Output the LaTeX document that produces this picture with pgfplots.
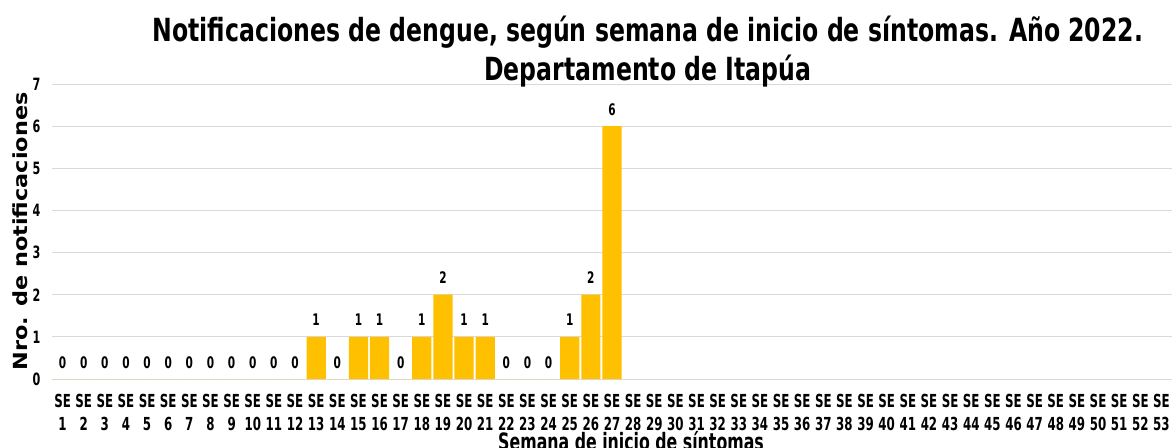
\documentclass[border=0pt]{standalone}
\usepackage{fontspec}
\setmainfont{DejaVu Sans}
\newfontfamily\cond[FakeStretch=0.66]{DejaVu Sans}
\newfontfamily\condt[FakeStretch=0.74]{DejaVu Sans}
\newfontfamily\wide[FakeStretch=1.15]{DejaVu Sans}
\usepackage{pgfplots}
\pgfplotsset{compat=1.18}
\definecolor{barc}{HTML}{FFC000}
\definecolor{gridc}{HTML}{D9D9D9}
\begin{document}
\begin{tikzpicture}
\begin{axis}[
  name=ax, at={(0,0)}, anchor=south west,
  scale only axis, width=1120bp, height=295bp,
  xmin=0.5, xmax=53.5, ymin=0, ymax=7,
  clip=false,
  ybar, bar width=19.2bp,
  xtick={1,...,53},
  xticklabels={{SE\\1},{SE\\2},{SE\\3},{SE\\4},{SE\\5},{SE\\6},{SE\\7},{SE\\8},{SE\\9},{SE\\10},{SE\\11},{SE\\12},{SE\\13},{SE\\14},{SE\\15},{SE\\16},{SE\\17},{SE\\18},{SE\\19},{SE\\20},{SE\\21},{SE\\22},{SE\\23},{SE\\24},{SE\\25},{SE\\26},{SE\\27},{SE\\28},{SE\\29},{SE\\30},{SE\\31},{SE\\32},{SE\\33},{SE\\34},{SE\\35},{SE\\36},{SE\\37},{SE\\38},{SE\\39},{SE\\40},{SE\\41},{SE\\42},{SE\\43},{SE\\44},{SE\\45},{SE\\46},{SE\\47},{SE\\48},{SE\\49},{SE\\50},{SE\\51},{SE\\52},{SE\\53}},
  ytick={0,...,7},
  ymajorgrids, grid style={draw=gridc, line width=0.9bp},
  axis line style={draw=none}, major tick length=0,
  /pgf/number format/assume math mode=true,
  yticklabel style={font=\cond\bfseries\fontsize{17}{20}\selectfont, xshift=-8bp},
  xticklabel style={font=\cond\bfseries\fontsize{18}{23}\selectfont, align=center, anchor=north, yshift=-12bp},
  xlabel={Semana de inicio de síntomas},
  xlabel style={font=\cond\bfseries\fontsize{24}{26}\selectfont, at={(axis description cs:0.517,0)}, anchor=base, yshift=-71bp},
  ylabel={Nro. de notificaciones},
  ylabel style={font=\wide\bfseries\fontsize{19.5}{20}\selectfont, at={(axis description cs:-0.0223,0.5)}, anchor=base},
  nodes near coords,
  every node near coord/.append style={font=\cond\bfseries\fontsize{16}{18}\selectfont, anchor=base, yshift=11bp, text=black},
]
\addplot[fill=barc, draw=none] coordinates {
(1,0) (2,0) (3,0) (4,0) (5,0) (6,0) (7,0) (8,0) (9,0) (10,0) (11,0) (12,0)
(13,1) (14,0) (15,1) (16,1) (17,0) (18,1) (19,2) (20,1) (21,1) (22,0) (23,0) (24,0)
(25,1) (26,2) (27,6)};
\node[font=\condt\bfseries\fontsize{32}{36}\selectfont, anchor=base] at ([yshift=43bp]axis description cs:0.532,1) {Notificaciones de dengue, según semana de inicio de síntomas. Año 2022.};
\node[font=\condt\bfseries\fontsize{32}{36}\selectfont, anchor=base] at ([yshift=4bp]axis description cs:0.532,1) {Departamento de Itapúa};
\end{axis}
\pgfresetboundingbox
\path ([shift={(-52bp,-69bp)}]ax.south west) rectangle ([shift={(0bp,84bp)}]ax.north east);
\end{tikzpicture}
\end{document}
